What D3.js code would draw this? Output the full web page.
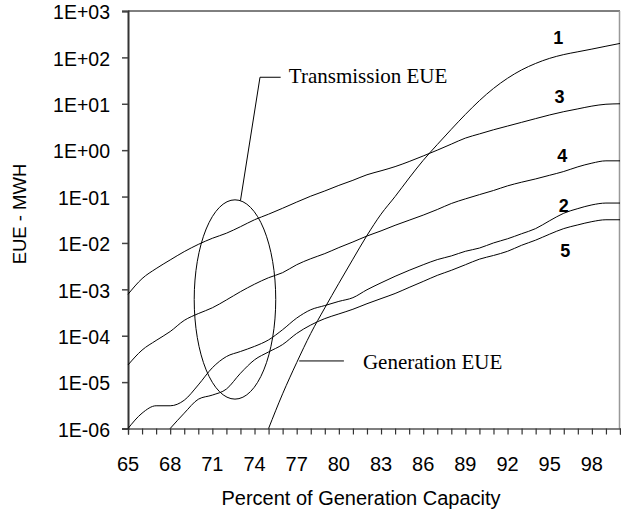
<!-- HTML -->
<!-- ---- -->

<div class='vis' id='vis-eue'></div>

<style>
	body { margin: 0; background: #fff; }
</style>

<!-- JavaScript -->
<!-- ---------- -->

<!-- Imports -->
<script src="https://d3js.org/d3.v7.min.js"></script>

<!-- Code -->
<script>

	// Data //
	// ---- //

	// percent of generation capacity, one point per percent
	const pctAll = d3.range(65, 101);
	const pctFrom68 = d3.range(68, 101);
	const pctFrom75 = d3.range(75, 101);

	// EUE (MWh)
	const eue1 = [1.0e-6, 5.6e-6, 2.63e-5, 1.12e-4, 3.98e-4, 1.35e-3, 4.47e-3, 1.45e-2, 4.17e-2, 0.1,
		0.251, 0.603, 1.32, 2.82, 5.89, 11.7, 21.4, 35.5, 53.7, 74.1, 95.5, 115, 132, 151, 174, 200];
	const eue2 = [1.0e-6, 2.14e-6, 3.09e-6, 3.09e-6, 4.07e-6, 8.7e-6, 2.04e-5, 3.55e-5, 4.57e-5, 5.89e-5,
		8.13e-5, 1.35e-4, 2.40e-4, 3.63e-4, 4.47e-4, 5.50e-4, 6.61e-4, 9.8e-4, 1.38e-3, 1.91e-3,
		2.57e-3, 3.39e-3, 4.37e-3, 5.25e-3, 6.61e-3, 7.76e-3, 1.0e-2, 1.23e-2, 1.58e-2, 2.04e-2,
		3.02e-2, 4.37e-2, 5.50e-2, 6.61e-2, 7.24e-2, 7.24e-2];
	const eue3 = [7.8e-4, 1.7e-3, 2.8e-3, 4.3e-3, 6.5e-3, 9.3e-3, 1.26e-2, 1.62e-2, 2.24e-2, 3.16e-2,
		4.17e-2, 5.6e-2, 7.6e-2, 0.102, 0.132, 0.174, 0.224, 0.295, 0.359, 0.442,
		0.569, 0.75, 1.0, 1.35, 1.82, 2.24, 2.75, 3.31, 3.98, 4.79,
		5.75, 6.76, 7.76, 8.91, 9.77, 10.0];
	const eue4 = [2.34e-5, 4.9e-5, 7.9e-5, 1.23e-4, 2.14e-4, 3.0e-4, 4.0e-4, 5.9e-4, 8.9e-4, 1.29e-3,
		1.78e-3, 2.29e-3, 3.39e-3, 4.57e-3, 5.89e-3, 7.94e-3, 1.05e-2, 1.41e-2, 1.82e-2, 2.40e-2,
		3.09e-2, 3.98e-2, 5.25e-2, 7.08e-2, 8.91e-2, 0.110, 0.135, 0.170, 0.204, 0.240,
		0.288, 0.347, 0.437, 0.525, 0.589, 0.589];
	const eue5 = [1.0e-6, 2.14e-6, 4.27e-6, 5.25e-6, 7.08e-6, 1.55e-5, 3.02e-5, 4.47e-5, 6.46e-5, 1.12e-4,
		1.70e-4, 2.34e-4, 2.95e-4, 3.72e-4, 4.90e-4, 6.31e-4, 8.13e-4, 1.10e-3, 1.48e-3, 2.00e-3,
		2.57e-3, 3.39e-3, 4.47e-3, 5.37e-3, 6.61e-3, 8.91e-3, 1.15e-2, 1.55e-2, 2.04e-2, 2.45e-2,
		2.88e-2, 3.16e-2, 3.16e-2];

	// curve labels: [name, pct, eue]
	const curveLabels = [["1", 95.6, 194], ["3", 95.7, 10.4], ["4", 95.9, 0.557], ["2", 96.0, 0.0466], ["5", 96.1, 0.00499]];

	// axis ticks
	const xTicks = d3.range(65, 101);
	const xTickLabels = d3.range(65, 100, 3);
	const yTicks = [1e-6, 1e-5, 1e-4, 1e-3, 1e-2, 1e-1, 1e0, 1e1, 1e2, 1e3];

	// annotations (in data units)
	const transEllipse = {cx: 72.61, rx: 2.9, top: 0.085, bottom: 4.3e-6};
	const transLeader = [[73.0, 0.0817], [74.39, 37.3], [75.86, 37.3]];
	const transText = {label: "Transmission EUE", pct: 76.44, eue: 27.7};
	const genLeader = [[77.18, 2.86e-5], [80.36, 2.86e-5]];
	const genText = {label: "Generation EUE", pct: 81.71, eue: 1.92e-5};


	function eueVis() {

		// ----- //
		// Setup //
		// ----- //

		let margin_ = {top: 11, right: 1, bottom: 84.5, left: 128},
			width = 621 - margin_.left - margin_.right,
			height = 513 - margin_.top - margin_.bottom;

		let svg = d3.select("#vis-eue")
			.append("svg")
				.attr("width", 621)
				.attr("height", 513)
			.append("g")
				.attr("transform", "translate(" + margin_.left + "," + margin_.top + ")");

		let x = d3.scaleLinear().domain([65, 100]).range([0, width]);
		let y = d3.scaleLog().domain([1e-6, 1e3]).range([height, 0]);

		let sans = "'Liberation Sans', Arial, sans-serif";
		let serif = "'Liberation Serif', 'Times New Roman', serif";

		// Frame //
		// ----- //

		svg.append("line")
			.attr("x1", 0).attr("x2", width)
			.attr("y1", 0).attr("y2", 0)
			.attr("stroke", "black").attr("stroke-width", 1);
		svg.append("line")
			.attr("x1", width - 0.5).attr("x2", width - 0.5)
			.attr("y1", 0).attr("y2", height)
			.attr("stroke", "#999").attr("stroke-width", 1.5);

		// Axes //
		// ---- //

		let xAxis = svg.append("g")
			.attr("transform", "translate(0," + height + ")")
			.call(d3.axisBottom(x).tickValues(xTicks).tickSize(6).tickFormat(""));
		xAxis.select(".domain").attr("stroke", "black").attr("stroke-width", 1.2);
		xAxis.selectAll(".tick line").attr("stroke", "#333").attr("stroke-width", 1.2);

		svg.selectAll(".xlab")
			.data(xTickLabels)
			.enter().append("text")
			.attr("x", d => x(d))
			.attr("y", height + 42.5)
			.attr("text-anchor", "middle")
			.style("font-family", sans)
			.style("font-size", "20px")
			.text(d => d);

		let fmt = d => {
			let e = Math.round(Math.log10(d));
			return "1E" + (e < 0 ? "-" : "+") + String(Math.abs(e)).padStart(2, "0");
		};

		let yAxis = svg.append("g")
			.call(d3.axisLeft(y).tickValues(yTicks).tickSize(6).tickPadding(12).tickFormat(fmt));
		yAxis.select(".domain").attr("stroke", "#333").attr("stroke-width", 2);
		yAxis.selectAll(".tick line").attr("stroke", "#444").attr("stroke-width", 1.5);
		yAxis.selectAll(".tick text")
			.attr("dy", "0.4em")
			.attr("fill", "black")
			.style("font-family", sans)
			.style("font-size", "19.5px");

		// Axis titles
		svg.append("text")
			.attr("x", 361 - margin_.left)
			.attr("y", height + 76.5)
			.attr("text-anchor", "middle")
			.style("font-family", sans)
			.style("font-size", "20px")
			.text("Percent of Generation Capacity");

		svg.append("text")
			.attr("transform", "translate(" + (26 - margin_.left) + "," + (214 - margin_.top) + ") rotate(-90)")
			.attr("text-anchor", "middle")
			.style("font-family", sans)
			.style("font-size", "18.5px")
			.text("EUE - MWH");

		// Curves //
		// ------ //

		let line = d3.line()
			.x(d => x(d[0]))
			.y(d => y(d[1]))
			.curve(d3.curveMonotoneX);

		let series = [
			d3.zip(pctFrom75, eue1),
			d3.zip(pctAll, eue2),
			d3.zip(pctAll, eue3),
			d3.zip(pctAll, eue4),
			d3.zip(pctFrom68, eue5)
		];

		svg.selectAll(".curve")
			.data(series)
			.enter().append("path")
			.attr("class", "curve")
			.attr("d", line)
			.attr("fill", "none")
			.attr("stroke", "black")
			.attr("stroke-width", 1);

		svg.selectAll(".clab")
			.data(curveLabels)
			.enter().append("text")
			.attr("x", d => x(d[1]))
			.attr("y", d => y(d[2]))
			.attr("text-anchor", "middle")
			.style("font-family", sans)
			.style("font-size", "18px")
			.style("font-weight", "bold")
			.text(d => d[0]);

		// Annotations //
		// ----------- //

		svg.append("ellipse")
			.attr("cx", x(transEllipse.cx))
			.attr("cy", (y(transEllipse.top) + y(transEllipse.bottom)) / 2)
			.attr("rx", x(transEllipse.cx + transEllipse.rx) - x(transEllipse.cx))
			.attr("ry", (y(transEllipse.bottom) - y(transEllipse.top)) / 2)
			.attr("fill", "none")
			.attr("stroke", "black")
			.attr("stroke-width", 1);

		let plain = d3.line().x(d => x(d[0])).y(d => y(d[1]));

		svg.append("path")
			.attr("d", plain(transLeader))
			.attr("fill", "none").attr("stroke", "black").attr("stroke-width", 1);
		svg.append("path")
			.attr("d", plain(genLeader))
			.attr("fill", "none").attr("stroke", "black").attr("stroke-width", 1);

		[transText, genText].forEach(t => {
			svg.append("text")
				.attr("x", x(t.pct))
				.attr("y", y(t.eue))
				.style("font-family", serif)
				.style("font-size", "21px")
				.text(t.label);
		});
	}

	let instance_eue = eueVis()
</script>
